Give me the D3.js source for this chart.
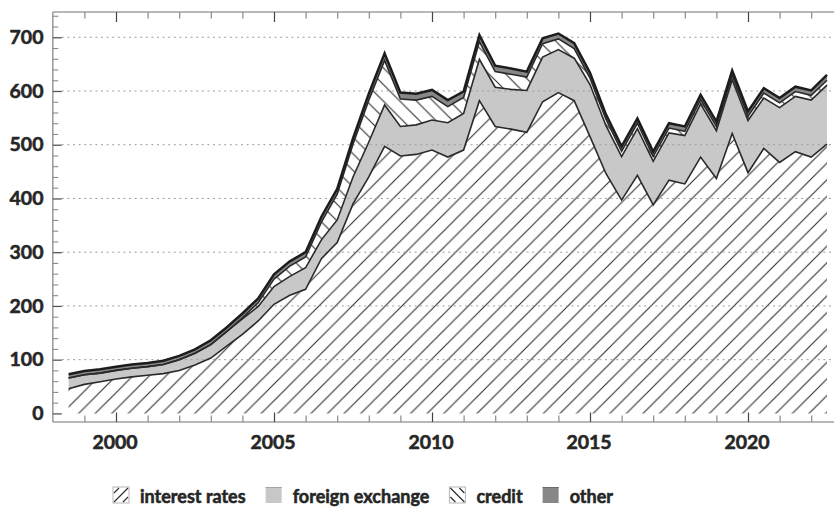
<!DOCTYPE html>
<html>
<head>
<meta charset="utf-8">
<script src="https://cdn.jsdelivr.net/npm/d3@7"></script>
<style>
  html, body { margin: 0; padding: 0; background: #fff; }
  svg { display: block; font-family: Lato, "Open Sans", sans-serif; font-weight: 700; }
</style>
</head>
<body>
<svg id="chart" width="834" height="508"></svg>
<script>
// Semi-annual observations (end of June / end of December)
const periods = [
  1998.5, 1999, 1999.5, 2000, 2000.5, 2001, 2001.5, 2002, 2002.5, 2003, 2003.5, 2004,
  2004.5, 2005, 2005.5, 2006, 2006.5, 2007, 2007.5, 2008,
  2008.5, 2009, 2009.5, 2010, 2010.5, 2011, 2011.5, 2012, 2012.5, 2013, 2013.5, 2014, 2014.5,
  2015, 2015.5, 2016, 2016.5, 2017, 2017.5, 2018, 2018.5, 2019, 2019.5, 2020, 2020.5, 2021, 2021.5, 2022, 2022.5
];

const interestRates = [
  46, 54, 59, 64, 68, 71, 74, 80, 90, 103, 125, 147,
  172, 203, 220, 231, 288, 318, 390, 440,
  497, 479, 482, 490, 477, 490, 582, 534, 529, 523, 580, 597, 582,
  515, 447, 397, 443, 388, 434, 427, 477, 437, 521, 448, 493, 467, 487, 477, 501
];

const foreignExchange = [
  20, 18, 16, 16, 16, 16, 17, 20, 22, 25, 27, 29,
  27, 33, 35, 40, 35, 42, 50, 65,
  77, 55, 55, 56, 64, 68, 77, 73, 74, 78, 83, 80, 79,
  97, 89, 81, 87, 81, 88, 90, 99, 89, 100, 97, 94, 102, 103, 106, 110
];

const credit = [
  0, 0, 0, 0, 0, 0, 0, 0, 0, 0, 0, 2,
  7, 14, 19, 20, 33, 48, 61, 78,
  83, 51, 46, 44, 30, 30, 33, 29, 28, 25, 25, 20, 18,
  12, 12, 10, 10, 9, 9, 8, 8, 8, 8, 8, 9, 9, 9, 9, 9
];

const other = [
  7, 7, 7, 7, 7, 7, 7, 7, 7, 8, 8, 8,
  8, 9, 9, 9, 10, 10, 11, 12,
  13, 12, 12, 12, 12, 11, 12, 11, 11, 10, 10, 10, 10,
  10, 9, 9, 9, 9, 9, 9, 9, 9, 9, 9, 9, 9, 9, 9, 10
];

const seriesKeys = ["interest rates", "foreign exchange", "credit", "other"];
const yTickValues = [0, 100, 200, 300, 400, 500, 600, 700];
const xYearTicks = [1999, 2000, 2001, 2002, 2003, 2004, 2005, 2006, 2007, 2008, 2009, 2010,
                    2011, 2012, 2013, 2014, 2015, 2016, 2017, 2018, 2019, 2020, 2021, 2022];
const xTickLabels = [2000, 2005, 2010, 2015, 2020];

// Table for d3.stack built from the arrays above
const rows = periods.map((t, i) => ({
  t,
  "interest rates": interestRates[i],
  "foreign exchange": foreignExchange[i],
  "credit": credit[i],
  "other": other[i]
}));

const svg = d3.select("#chart");
const W = 834;
const plotLeft = 52.8, plotTop = 12, plotBottom = 422;
const textColor = "#262626";

const x = d3.scaleLinear().domain([1998, 2023]).range([plotLeft, plotLeft + 25 * 31.6]);
const y = d3.scaleLinear().domain([-16, 747]).range([plotBottom, plotTop]);

const stacked = d3.stack().keys(seriesKeys)(rows);

// ---- hatch patterns ----
const defs = svg.append("defs");
const hs = 16.6;
const pIR = defs.append("pattern").attr("id", "hatch-ir")
  .attr("patternUnits", "userSpaceOnUse").attr("width", hs).attr("height", hs)
  .attr("x", 12.3).attr("y", 413.4);
pIR.append("rect").attr("width", hs).attr("height", hs).attr("fill", "#fff");
pIR.append("path")
  .attr("d", `M${-hs/2},${hs/2}L${hs/2},${-hs/2}M0,${hs}L${hs},0M${hs/2},${hs*1.5}L${hs*1.5},${hs/2}`)
  .attr("stroke", "#2e2e2e").attr("stroke-width", 1.1);

const pCR = defs.append("pattern").attr("id", "hatch-credit")
  .attr("patternUnits", "userSpaceOnUse").attr("width", hs).attr("height", hs);
pCR.append("rect").attr("width", hs).attr("height", hs).attr("fill", "#fff");
pCR.append("path")
  .attr("d", `M${-hs/2},${hs/2}L${hs/2},${hs*1.5}M0,0L${hs},${hs}M${hs/2},${-hs/2}L${hs*1.5},${hs/2}`)
  .attr("stroke", "#2e2e2e").attr("stroke-width", 1.1);

const fills = {
  "interest rates": "url(#hatch-ir)",
  "foreign exchange": "#c8c8c8",
  "credit": "url(#hatch-credit)",
  "other": "#878787"
};

// ---- stacked areas ----
const area = d3.area()
  .x(d => x(d.data.t))
  .y0(d => y(d[0]))
  .y1(d => y(d[1]));

svg.append("g").selectAll("path")
  .data(stacked)
  .join("path")
  .attr("d", area)
  .attr("fill", d => fills[d.key]);

// ---- dotted gridlines ----
svg.append("g").selectAll("line")
  .data(yTickValues.filter(v => v > 0))
  .join("line")
  .attr("x1", plotLeft + 9).attr("x2", W)
  .attr("y1", d => y(d)).attr("y2", d => y(d))
  .attr("stroke", "#9c9c9c").attr("stroke-width", 1)
  .attr("stroke-dasharray", "2,3.6");

// ---- boundary lines between the layers ----
const line = d3.line().x(d => x(d.data.t)).y(d => y(d[1]));
svg.append("g").selectAll("path")
  .data(stacked)
  .join("path")
  .attr("d", line)
  .attr("fill", "none")
  .attr("stroke", (d, i) => i === stacked.length - 1 ? "#1c1c1c" : "#2a2a2a")
  .attr("stroke-width", (d, i) => i === stacked.length - 1 ? 2.5 : 1.6)
  .attr("stroke-linejoin", "miter");

// ---- frame ----
const frame = svg.append("g").attr("stroke", "#a0a0a0").attr("stroke-width", 1.6).attr("fill", "none");
frame.append("line").attr("x1", plotLeft).attr("x2", plotLeft).attr("y1", plotTop).attr("y2", plotBottom);
frame.append("line").attr("x1", plotLeft).attr("x2", W).attr("y1", plotBottom).attr("y2", plotBottom);
frame.append("line").attr("x1", plotLeft).attr("x2", W).attr("y1", plotTop).attr("y2", plotTop);

// ---- y axis ----
const yMinor = d3.range(0, 741, 20).filter(v => v % 100 !== 0);
const gyMaj = svg.append("g").attr("transform", `translate(${plotLeft},0)`)
  .call(d3.axisRight(y).tickValues(yTickValues).tickSize(9).tickFormat(""));
const gyMin = svg.append("g").attr("transform", `translate(${plotLeft},0)`)
  .call(d3.axisRight(y).tickValues(yMinor).tickSize(5.5).tickFormat(""));
[gyMaj, gyMin].forEach(g => g.select(".domain").remove());
gyMaj.selectAll(".tick line").attr("stroke", "#555").attr("stroke-width", 1.3);
gyMin.selectAll(".tick line").attr("stroke", "#8a8a8a").attr("stroke-width", 1.1);

const styleLabel = sel => sel
  .attr("font-family", "Lato, 'Open Sans', sans-serif")
  .attr("font-weight", 700)
  .attr("fill", textColor)
  .attr("stroke", textColor)
  .attr("stroke-width", 0.55);

const gyl = svg.append("g").attr("transform", `translate(43.5,0)`)
  .call(d3.axisLeft(y).tickValues(yTickValues).tickSize(0).tickPadding(0).tickFormat(d3.format("d")));
gyl.select(".domain").remove();
gyl.selectAll("text").call(styleLabel).attr("font-size", 19.5);

// ---- x axis (bottom and top ticks) ----
const isMajorYear = d => d % 5 === 0;
const gxb = svg.append("g").attr("transform", `translate(0,${plotBottom})`)
  .call(d3.axisTop(x).tickValues(xYearTicks).tickSize(7).tickFormat(""));
gxb.select(".domain").remove();
gxb.selectAll(".tick line")
  .attr("y2", d => isMajorYear(d) ? -9.5 : -6.5)
  .attr("stroke", d => isMajorYear(d) ? "#444" : "#8a8a8a").attr("stroke-width", 1.2);

const gxt = svg.append("g").attr("transform", `translate(0,${plotTop})`)
  .call(d3.axisBottom(x).tickValues(xYearTicks).tickSize(7).tickFormat(""));
gxt.select(".domain").remove();
gxt.selectAll(".tick line")
  .attr("y2", d => isMajorYear(d) ? 10 : 6.5)
  .attr("stroke", d => isMajorYear(d) ? "#444" : "#8a8a8a").attr("stroke-width", 1.2);

const gxl = svg.append("g").attr("transform", `translate(-1.5,${plotBottom})`)
  .call(d3.axisBottom(x).tickValues(xTickLabels).tickSize(0).tickPadding(0).tickFormat(d3.format("d")));
gxl.select(".domain").remove();
gxl.selectAll("text")
  .attr("dy", null)
  .attr("y", 27)
  .call(styleLabel)
  .attr("font-size", 19.5);

// ---- legend ----
const legend = svg.append("g").attr("transform", "translate(113,487)");
let cursor = 0;
seriesKeys.forEach(key => {
  const item = legend.append("g").attr("transform", `translate(${cursor},0)`);
  const sw = 16;
  if (key === "interest rates" || key === "credit") {
    item.append("rect").attr("width", sw).attr("height", sw)
      .attr("fill", "#fff").attr("stroke", "#b5b5b5").attr("stroke-width", 1);
    const d = key === "interest rates"
      ? `M1,${sw - 1}L${sw - 1},1M1,6L6,1M${sw - 6},${sw - 1}L${sw - 1},${sw - 6}`
      : `M1,1L${sw - 1},${sw - 1}M1,${sw - 6}L6,${sw - 1}M${sw - 6},1L${sw - 1},6`;
    item.append("path").attr("d", d).attr("stroke", "#2e2e2e").attr("stroke-width", 1.2);
  } else {
    item.append("rect").attr("width", sw).attr("height", sw).attr("fill", fills[key]);
    item.append("line").attr("x1", 0).attr("x2", sw).attr("y1", 0.5).attr("y2", 0.5)
      .attr("stroke", key === "other" ? "#6a6a6a" : "#a5a5a5").attr("stroke-width", 1);
  }
  const txt = item.append("text")
    .attr("x", 27).attr("y", 15.5)
    .call(styleLabel)
    .attr("font-size", 18)
    .text(key);
  cursor += 27 + txt.node().getComputedTextLength() + 20;
});
</script>
</body>
</html>
